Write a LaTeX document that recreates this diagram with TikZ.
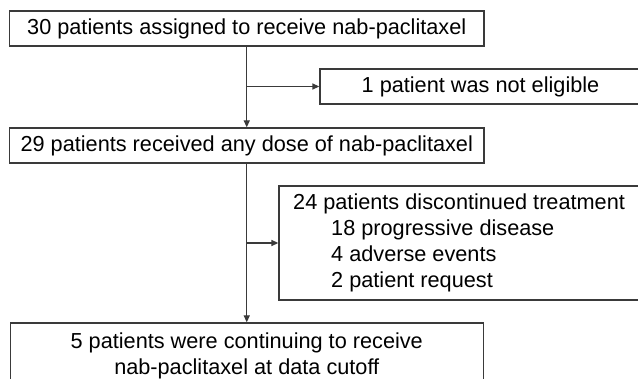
\documentclass[tikz,border=0pt]{standalone}
\usepackage{fontspec}
\setmainfont{Liberation Sans}
\usetikzlibrary{arrows.meta}
\definecolor{ln}{HTML}{3A3A3A}
\tikzset{
  box/.style={draw=ln, line width=1.3pt, rectangle, inner sep=0pt, font=\fontsize{21.7}{26}\selectfont},
  txt/.style={inner sep=0pt, font=\fontsize{21.7}{26}\selectfont},
  conn/.style={draw=ln, line width=1.3pt, -{Triangle[length=7pt,width=6pt]}}
}
\begin{document}
\begin{tikzpicture}[x=1pt,y=-1pt]
\clip (0,0) rectangle (638,379);
\fill[white] (0,0) rectangle (638,379);
\node[box, minimum width=474.5pt, minimum height=35pt] (b1) at (246.75,28.5) {30 patients assigned to receive nab-paclitaxel};
\node[box, minimum width=321pt, minimum height=35pt] (b2) at (480.5,86.5) {1 patient was not eligible};
\node[box, minimum width=474.5pt, minimum height=35pt] (b3) at (246.75,145.5) {29 patients received any dose of nab-paclitaxel};
\node[box, minimum width=362pt, minimum height=114pt] (b4) at (460,243) {};
\node[txt, align=left, anchor=west] (t4) at (293,242.75) {24 patients discontinued treatment\\
\hspace*{38pt}18 progressive disease\\
\hspace*{38pt}4 adverse events\\
\hspace*{38pt}2 patient request};
\node[box, minimum width=473pt, minimum height=70pt] (b5) at (246.75,358) {};
\node[txt, align=center] (t5) at (246.75,355.5) {5 patients were continuing to receive\\nab-paclitaxel at data cutoff};
\draw[conn] (b1.south) -- (b3.north);
\draw[conn] (b1.south |- b2.west) -- (b2.west);
\draw[conn] (b3.south) -- (b5.north);
\draw[conn] (b3.south |- b4.west) -- (b4.west);
\end{tikzpicture}
\end{document}
